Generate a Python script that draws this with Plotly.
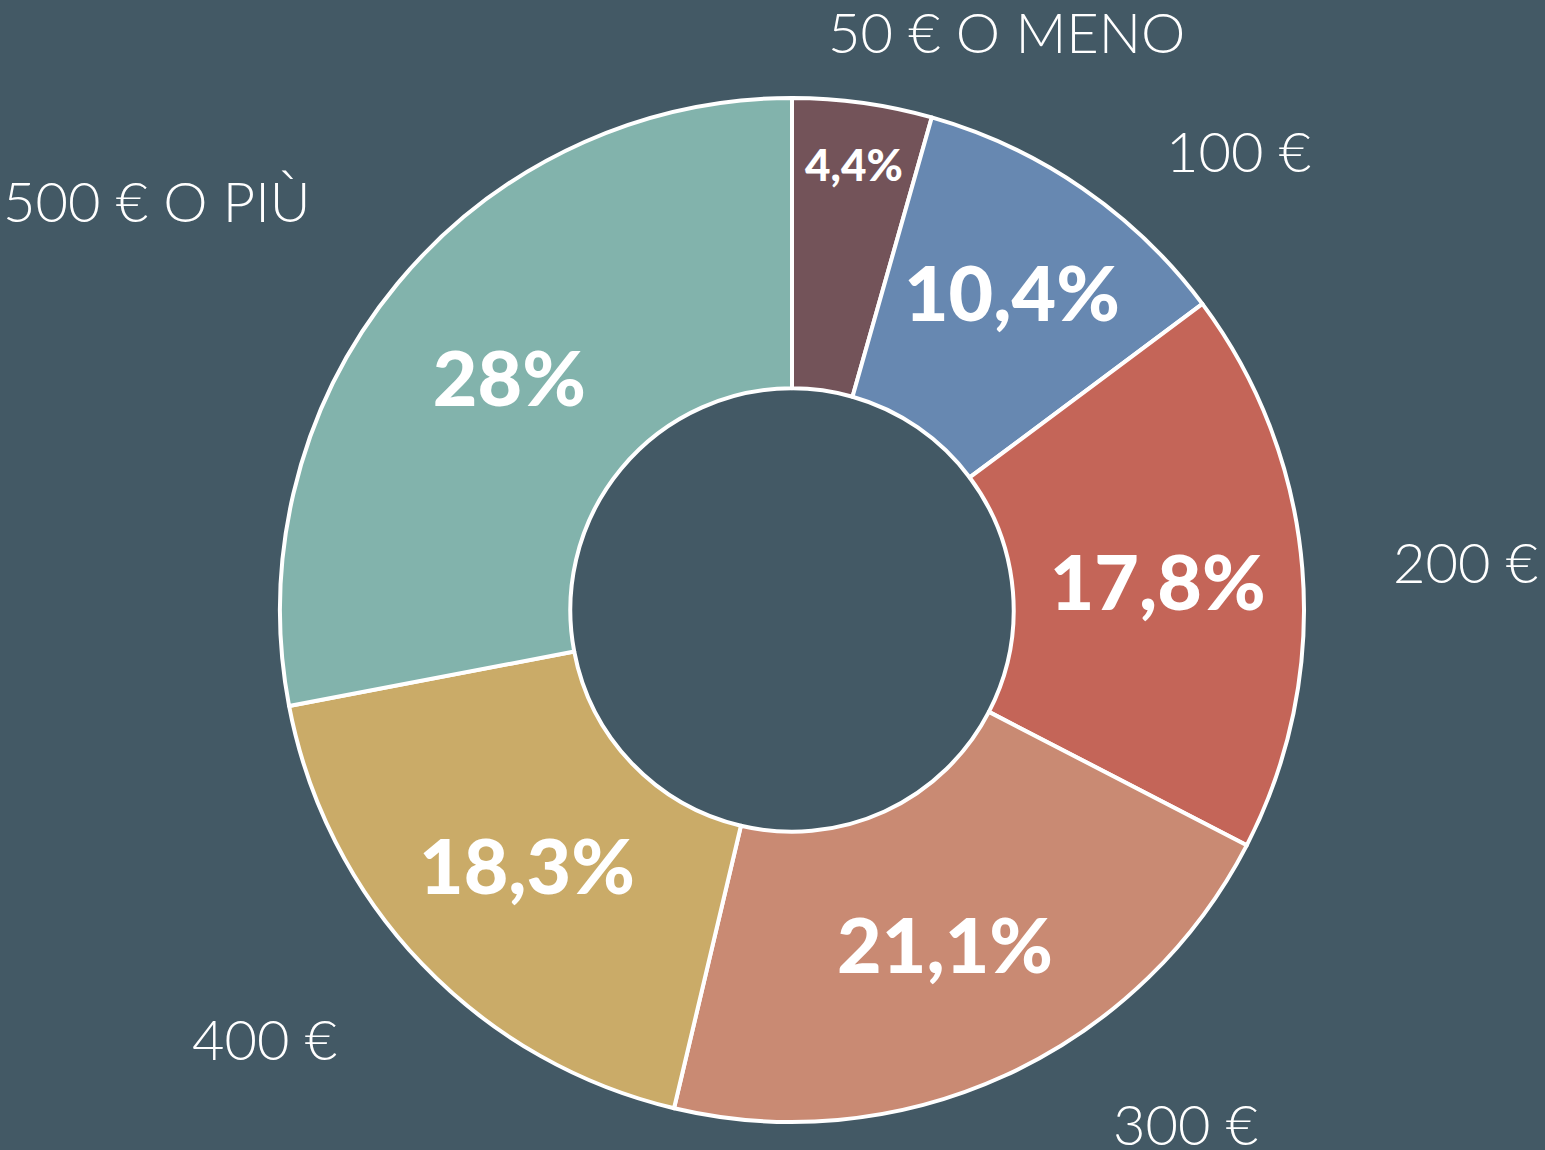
import plotly.graph_objects as go

categories = ["50 € O MENO", "100 €", "200 €", "300 €", "400 €", "500 € O PIÙ"]
values = [4.4, 10.4, 17.8, 21.1, 18.3, 28.0]
value_labels = ["4,4%", "10,4%", "17,8%", "21,1%", "18,3%", "28%"]

colors = ["#735359", "#6788b1", "#c46558", "#c98a73", "#caab68", "#82b3ac"]
inner_sizes = [44, 77, 77, 77, 77, 77]
# outer label placement (pixels in the 1545x1150 canvas)
label_pos = [(1006, 31), (1238, 150), (1465, 562), (1185, 1123), (264, 1038), (157, 200)]

W, H = 1545, 1150
BG = "#435965"

fig = go.Figure()
fig.add_trace(go.Pie(
    values=values,
    labels=categories,
    text=value_labels,
    textinfo="text",
    textposition="inside",
    insidetextorientation="horizontal",
    sort=False,
    direction="clockwise",
    rotation=0,
    hole=0.433,
    marker=dict(colors=colors, line=dict(color="white", width=4)),
    textfont=dict(family="Lato", size=inner_sizes, color="white", weight=900),
    domain=dict(x=[(792 - 512) / W, (792 + 512) / W], y=[(540 - 512) / H, (540 + 512) / H]),
    showlegend=False,
    hoverinfo="label+text",
))

for name, (px, py) in zip(categories, label_pos):
    fig.add_annotation(
        x=px / W, y=1 - py / H, xref="paper", yref="paper",
        text=name, showarrow=False, xanchor="center", yanchor="middle",
        font=dict(family="Lato", size=56, color="white", weight=300),
    )

fig.update_layout(
    width=W, height=H,
    margin=dict(l=0, r=0, t=0, b=0),
    paper_bgcolor=BG, plot_bgcolor=BG,
)

fig.write_html(
    "out.html",
    config={"displayModeBar": False},
    post_script="document.body.style.margin='0';document.body.style.background='%s';"
                "document.documentElement.style.background='%s';" % (BG, BG),
)
